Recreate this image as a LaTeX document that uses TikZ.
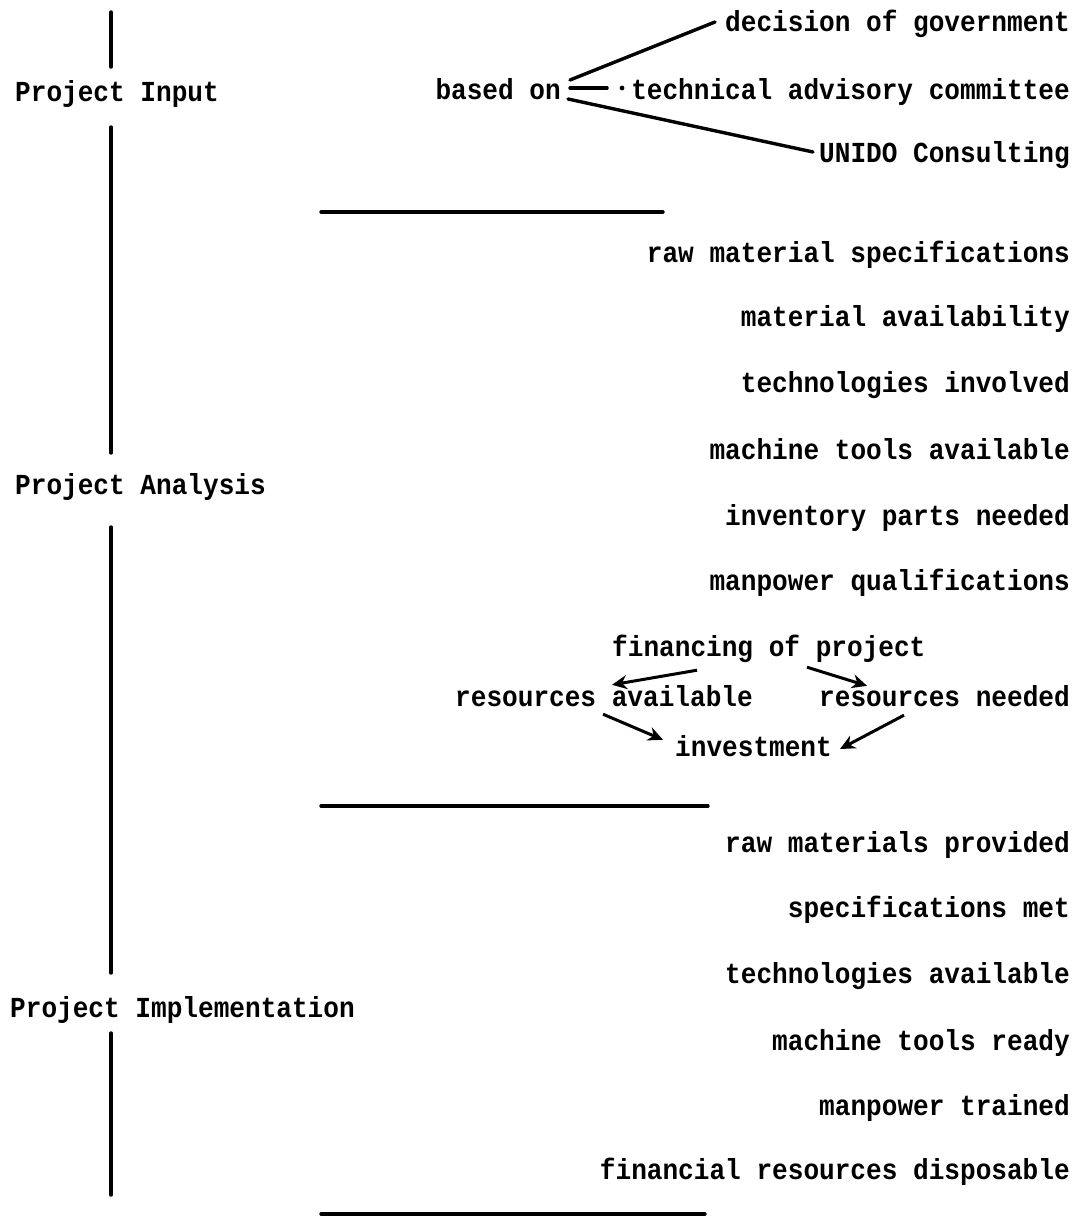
\documentclass[tikz,border=0pt]{standalone}
\usepackage{fontspec}
\newfontfamily\tw[FakeStretch=0.9]{Liberation Mono}
\usetikzlibrary{arrows.meta}
\begin{document}
\begin{tikzpicture}[x=1pt,y=-1pt,
  txt/.style={inner sep=0pt, text height=24pt, text depth=6pt,
    font=\tw\bfseries\fontsize{29}{32}\selectfont},
  rt/.style={txt, anchor=east},
  lt/.style={txt, anchor=west},
  ln/.style={line width=3.4pt, line cap=round},
  arr/.style={line width=3pt, -{Stealth[length=15pt,width=14pt]}}]
\useasboundingbox (0,0) rectangle (1079,1221);
% left column
\node[lt] (pin) at (15,92) {Project Input};
\node[lt] (pan) at (15,485) {Project Analysis};
\node[lt] (pim) at (10,1008) {Project Implementation};
\coordinate (v0) at (111,12);
\coordinate (v1) at (111,67);
\coordinate (v2) at (111,127);
\coordinate (v3) at (111,453);
\coordinate (v4) at (111,527);
\coordinate (v5) at (111,973);
\coordinate (v6) at (111,1033);
\coordinate (v7) at (111,1195);
\draw[ln] (v0) -- (v1);
\draw[ln] (v2) -- (v3);
\draw[ln] (v4) -- (v5);
\draw[ln] (v6) -- (v7);
% input
\node[rt] (dec) at (1070,22) {decision of government};
\node[rt] (tac) at (1070,90) {technical advisory committee};
\node[rt] (uni) at (1070,153) {UNIDO Consulting};
\node[rt] (bas) at (561,90) {based on};
\draw[ln] ([shift={(9,-10)}]bas.east) -- ([shift={(-10,0)}]dec.west);
\draw[ln] ([shift={(9,-2)}]bas.east) -- ([shift={(-24,-2)}]tac.west);
\fill ([shift={(-9,-2)}]tac.west) circle (2.4pt);
\draw[ln] ([shift={(7,9)}]bas.east) -- ([shift={(-6,-1)}]uni.west);
% separator
\coordinate (h1a) at (321,212);
\coordinate (h1b) at (663,212);
\draw[ln] (h1a) -- (h1b);
% analysis
\node[rt] (a1) at (1070,253) {raw material specifications};
\node[rt] (a2) at (1070,317) {material availability};
\node[rt] (a3) at (1070,383) {technologies involved};
\node[rt] (a4) at (1070,450) {machine tools available};
\node[rt] (a5) at (1070,516) {inventory parts needed};
\node[rt] (a6) at (1070,581) {manpower qualifications};
\node[lt] (fin) at (612,647) {financing of project};
\node[rt] (rav) at (753,697) {resources available};
\node[rt] (rne) at (1070,697) {resources needed};
\node[lt] (inv) at (675,747) {investment};
\coordinate (f1) at ([shift={(85,8)}]fin.south west);
\coordinate (f2) at ([shift={(195,5)}]fin.south west);
\draw[arr] (f1) -- ([shift={(157,3)}]rav.north west);
\draw[arr] (f2) -- ([shift={(48,4)}]rne.north west);
\draw[arr] ([shift={(148,2)}]rav.south west) -- ([shift={(-12,8)}]inv.north west);
\draw[arr] ([shift={(85,3)}]rne.south west) -- ([shift={(8,2)}]inv.east);
% separator
\coordinate (h2a) at (321,806);
\coordinate (h2b) at (708,806);
\draw[ln] (h2a) -- (h2b);
% implementation
\node[rt] (i1) at (1070,843) {raw materials provided};
\node[rt] (i2) at (1070,908) {specifications met};
\node[rt] (i3) at (1070,974) {technologies available};
\node[rt] (i4) at (1070,1041) {machine tools ready};
\node[rt] (i5) at (1070,1106) {manpower trained};
\node[rt] (i6) at (1070,1170) {financial resources disposable};
\coordinate (h3a) at (321,1214);
\coordinate (h3b) at (705,1214);
\draw[ln] (h3a) -- (h3b);
\end{tikzpicture}
\end{document}
